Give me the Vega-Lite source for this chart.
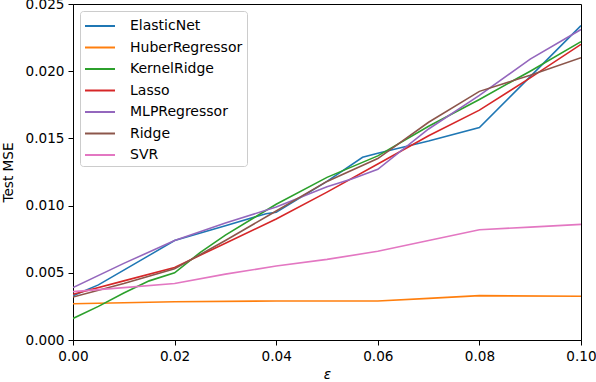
{
  "$schema": "https://vega.github.io/schema/vega-lite/v6.json",
  "width": 508,
  "height": 336,
  "autosize": {"type": "none"},
  "padding": {"left": 73, "top": 4, "right": 15, "bottom": 42},
  "background": "white",
  "config": {
    "font": "DejaVu Sans",
    "view": {"stroke": "black", "strokeWidth": 1},
    "axis": {"grid": false, "domainColor": "black", "tickColor": "black", "labelColor": "black", "titleColor": "black", "labelFontSize": 13.6, "titleFontSize": 13.6, "titleFontWeight": "normal", "tickSize": 5, "labelPadding": 4, "labelFlush": false, "labelOverlap": false}
  },
  "data": {
    "values": [
      {"model": "ElasticNet", "eps": 0, "mse": 0.0033},
      {"model": "ElasticNet", "eps": 0.005, "mse": 0.0041},
      {"model": "ElasticNet", "eps": 0.01, "mse": 0.0052},
      {"model": "ElasticNet", "eps": 0.015, "mse": 0.0063},
      {"model": "ElasticNet", "eps": 0.02, "mse": 0.0074},
      {"model": "ElasticNet", "eps": 0.03, "mse": 0.0085},
      {"model": "ElasticNet", "eps": 0.038, "mse": 0.0094},
      {"model": "ElasticNet", "eps": 0.04, "mse": 0.0095},
      {"model": "ElasticNet", "eps": 0.05, "mse": 0.0118},
      {"model": "ElasticNet", "eps": 0.057, "mse": 0.0136},
      {"model": "ElasticNet", "eps": 0.06, "mse": 0.0139},
      {"model": "ElasticNet", "eps": 0.07, "mse": 0.0148},
      {"model": "ElasticNet", "eps": 0.08, "mse": 0.0158},
      {"model": "ElasticNet", "eps": 0.09, "mse": 0.0196},
      {"model": "ElasticNet", "eps": 0.1, "mse": 0.0234},
      {"model": "HuberRegressor", "eps": 0, "mse": 0.0027},
      {"model": "HuberRegressor", "eps": 0.02, "mse": 0.00285},
      {"model": "HuberRegressor", "eps": 0.04, "mse": 0.0029},
      {"model": "HuberRegressor", "eps": 0.06, "mse": 0.0029},
      {"model": "HuberRegressor", "eps": 0.07, "mse": 0.0031},
      {"model": "HuberRegressor", "eps": 0.08, "mse": 0.0033},
      {"model": "HuberRegressor", "eps": 0.1, "mse": 0.00325},
      {"model": "KernelRidge", "eps": 0, "mse": 0.0016},
      {"model": "KernelRidge", "eps": 0.005, "mse": 0.0025},
      {"model": "KernelRidge", "eps": 0.01, "mse": 0.0035},
      {"model": "KernelRidge", "eps": 0.015, "mse": 0.0044},
      {"model": "KernelRidge", "eps": 0.02, "mse": 0.005},
      {"model": "KernelRidge", "eps": 0.025, "mse": 0.0065},
      {"model": "KernelRidge", "eps": 0.03, "mse": 0.0078},
      {"model": "KernelRidge", "eps": 0.04, "mse": 0.0101},
      {"model": "KernelRidge", "eps": 0.05, "mse": 0.0121},
      {"model": "KernelRidge", "eps": 0.06, "mse": 0.0137},
      {"model": "KernelRidge", "eps": 0.07, "mse": 0.0159},
      {"model": "KernelRidge", "eps": 0.08, "mse": 0.0179},
      {"model": "KernelRidge", "eps": 0.09, "mse": 0.02},
      {"model": "KernelRidge", "eps": 0.1, "mse": 0.0222},
      {"model": "Lasso", "eps": 0, "mse": 0.0034},
      {"model": "Lasso", "eps": 0.01, "mse": 0.0044},
      {"model": "Lasso", "eps": 0.02, "mse": 0.0054},
      {"model": "Lasso", "eps": 0.03, "mse": 0.0072},
      {"model": "Lasso", "eps": 0.04, "mse": 0.009},
      {"model": "Lasso", "eps": 0.05, "mse": 0.011},
      {"model": "Lasso", "eps": 0.06, "mse": 0.0131},
      {"model": "Lasso", "eps": 0.07, "mse": 0.0152},
      {"model": "Lasso", "eps": 0.08, "mse": 0.0171},
      {"model": "Lasso", "eps": 0.09, "mse": 0.0195},
      {"model": "Lasso", "eps": 0.1, "mse": 0.022},
      {"model": "MLPRegressor", "eps": 0, "mse": 0.0039},
      {"model": "MLPRegressor", "eps": 0.01, "mse": 0.0057},
      {"model": "MLPRegressor", "eps": 0.02, "mse": 0.0074},
      {"model": "MLPRegressor", "eps": 0.03, "mse": 0.0087},
      {"model": "MLPRegressor", "eps": 0.04, "mse": 0.0099},
      {"model": "MLPRegressor", "eps": 0.05, "mse": 0.0114},
      {"model": "MLPRegressor", "eps": 0.055, "mse": 0.012},
      {"model": "MLPRegressor", "eps": 0.06, "mse": 0.0127},
      {"model": "MLPRegressor", "eps": 0.07, "mse": 0.0157},
      {"model": "MLPRegressor", "eps": 0.08, "mse": 0.0182},
      {"model": "MLPRegressor", "eps": 0.09, "mse": 0.0209},
      {"model": "MLPRegressor", "eps": 0.1, "mse": 0.0231},
      {"model": "Ridge", "eps": 0, "mse": 0.0032},
      {"model": "Ridge", "eps": 0.01, "mse": 0.0042},
      {"model": "Ridge", "eps": 0.02, "mse": 0.0053},
      {"model": "Ridge", "eps": 0.03, "mse": 0.0074},
      {"model": "Ridge", "eps": 0.04, "mse": 0.0096},
      {"model": "Ridge", "eps": 0.05, "mse": 0.0118},
      {"model": "Ridge", "eps": 0.06, "mse": 0.0135},
      {"model": "Ridge", "eps": 0.07, "mse": 0.0162},
      {"model": "Ridge", "eps": 0.08, "mse": 0.0185},
      {"model": "Ridge", "eps": 0.09, "mse": 0.0197},
      {"model": "Ridge", "eps": 0.1, "mse": 0.021},
      {"model": "SVR", "eps": 0, "mse": 0.0036},
      {"model": "SVR", "eps": 0.01, "mse": 0.0039},
      {"model": "SVR", "eps": 0.02, "mse": 0.0042},
      {"model": "SVR", "eps": 0.03, "mse": 0.0049},
      {"model": "SVR", "eps": 0.04, "mse": 0.0055},
      {"model": "SVR", "eps": 0.05, "mse": 0.006},
      {"model": "SVR", "eps": 0.06, "mse": 0.0066},
      {"model": "SVR", "eps": 0.07, "mse": 0.0074},
      {"model": "SVR", "eps": 0.08, "mse": 0.0082},
      {"model": "SVR", "eps": 0.09, "mse": 0.0084},
      {"model": "SVR", "eps": 0.1, "mse": 0.0086}
    ]
  },
  "mark": {"type": "line", "strokeWidth": 1.6, "clip": true},
  "encoding": {
    "x": {
      "field": "eps", "type": "quantitative",
      "scale": {"domain": [0, 0.1], "nice": false, "zero": false},
      "axis": {"title": "ε", "format": ".2f", "values": [0, 0.02, 0.04, 0.06, 0.08, 0.1], "titleFontStyle": "italic", "titlePadding": 5}
    },
    "y": {
      "field": "mse", "type": "quantitative",
      "scale": {"domain": [0, 0.025], "nice": false},
      "axis": {"title": "Test MSE", "format": ".3f", "values": [0, 0.005, 0.01, 0.015, 0.02, 0.025], "titlePadding": 10}
    },
    "color": {
      "field": "model", "type": "nominal",
      "scale": {
        "domain": ["ElasticNet", "HuberRegressor", "KernelRidge", "Lasso", "MLPRegressor", "Ridge", "SVR"],
        "range": ["#1f77b4", "#ff7f0e", "#2ca02c", "#d62728", "#9467bd", "#8c564b", "#e377c2"]
      },
      "legend": {
        "title": null,
        "orient": "top-left",
        "offset": 7,
        "symbolType": "M-1,0H2",
        "symbolSize": 400,
        "symbolStrokeWidth": 2,
        "labelFontSize": 14,
        "labelColor": "black",
        "rowPadding": 3.5,
        "labelOffset": 24,
        "padding": 4,
        "strokeColor": "#cccccc",
        "fillColor": "white",
        "cornerRadius": 3
      }
    }
  }
}
